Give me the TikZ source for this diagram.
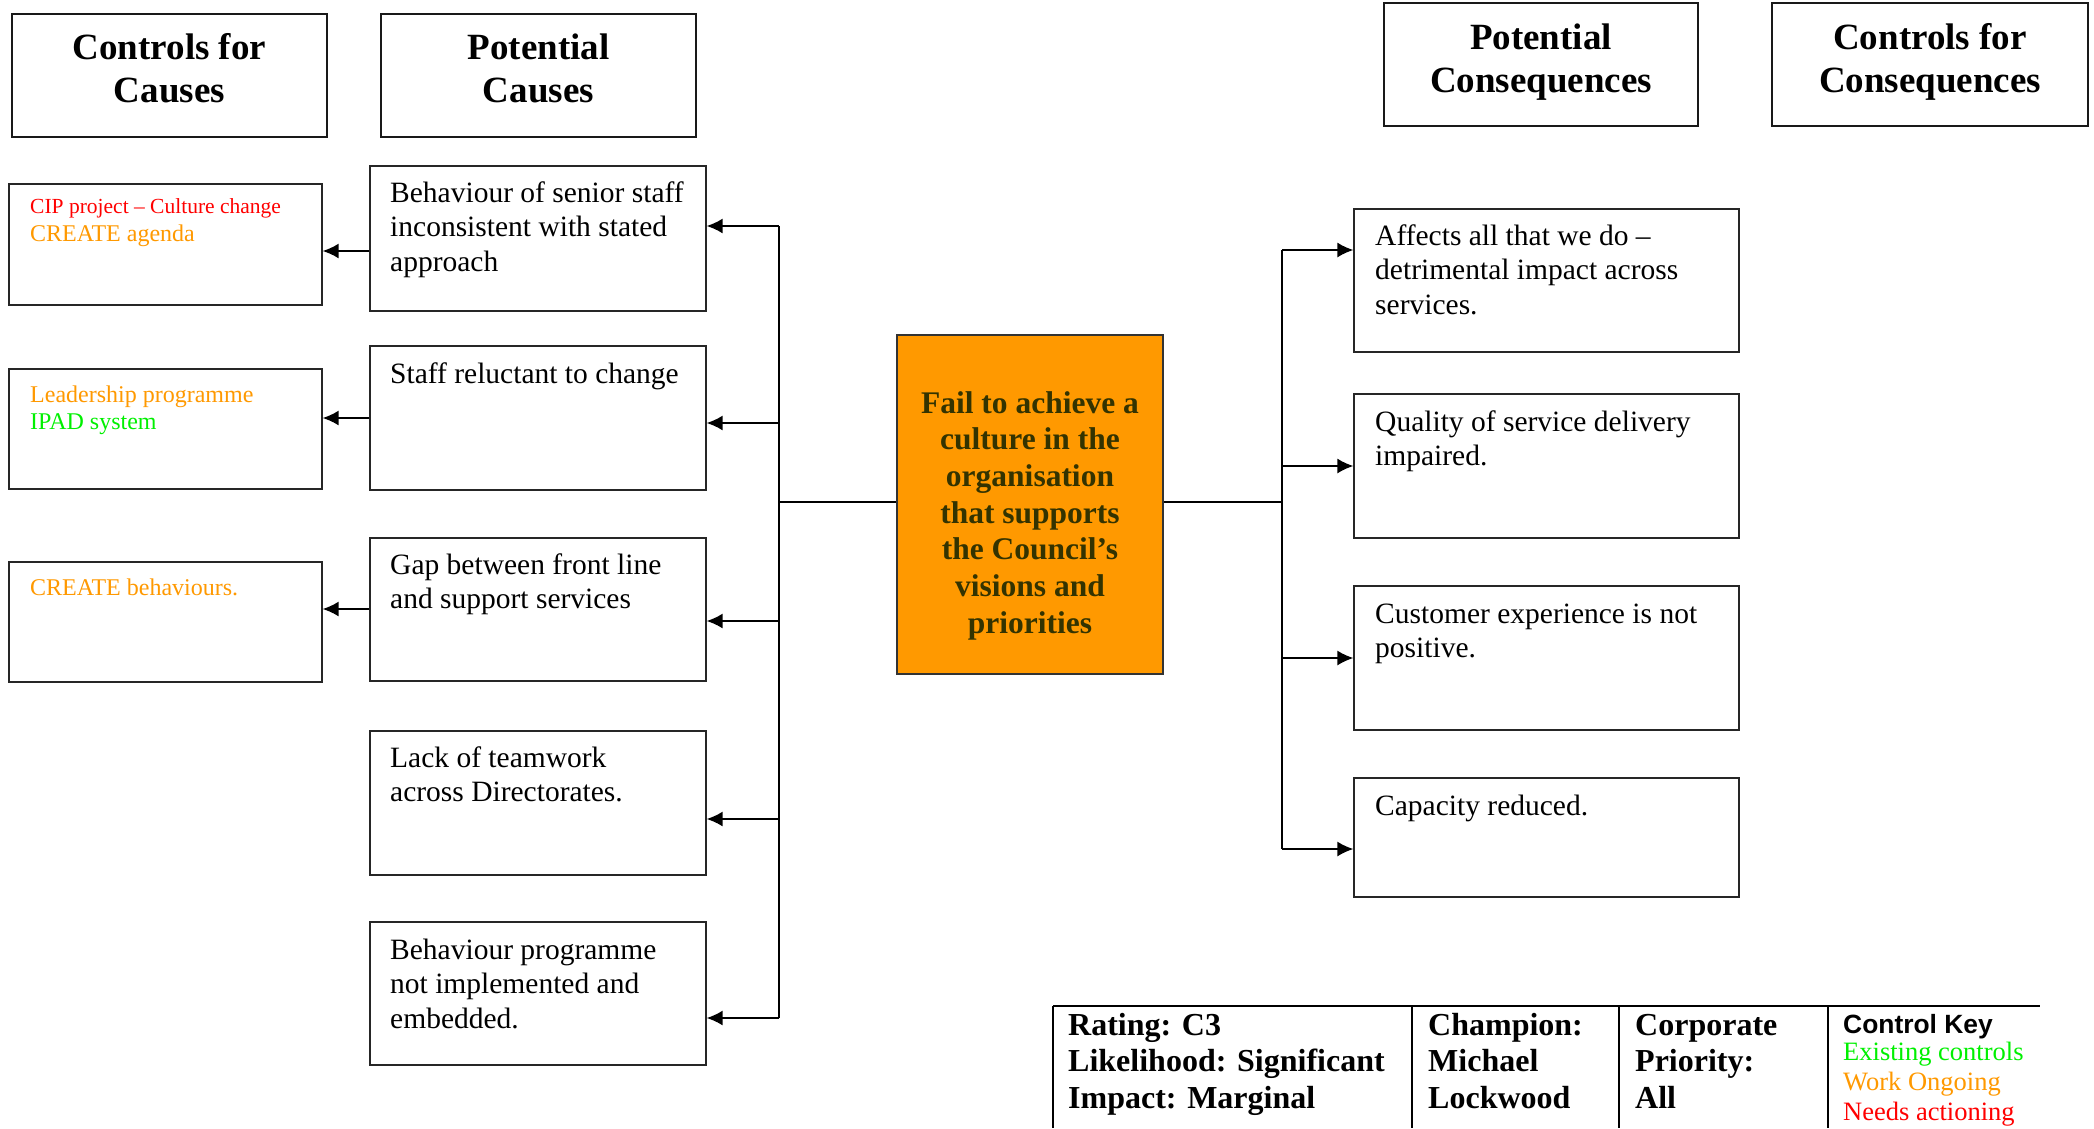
\documentclass[tikz,border=0pt]{standalone}
\usepackage{fontspec}
\setmainfont{Liberation Serif}
\newfontfamily\arialfont{Liberation Sans}
\usetikzlibrary{arrows.meta,fit}
\definecolor{ctrlred}{RGB}{255,0,0}
\definecolor{ctrlorange}{RGB}{255,153,0}
\definecolor{ctrlgreen}{RGB}{0,240,0}
\definecolor{riskfill}{RGB}{255,153,0}
\definecolor{risktext}{RGB}{51,51,0}
\newcommand\myBody{\fontsize{29.5}{34.7}\selectfont}
\newcommand\myHdr{\fontsize{37}{43.5}\selectfont\bfseries}
\newcommand\myRisk{\fontsize{31.5}{36.7}\selectfont\bfseries}
\newcommand\myTbl{\fontsize{32}{36.5}\selectfont\bfseries}
\newcommand\myKey{\fontsize{26.5}{30}\selectfont}
\begin{document}
\begin{tikzpicture}[x=1pt,y=-1pt,
  hdrbox/.style={draw=black!90, line width=2.2pt, inner sep=0pt},
  plainbox/.style={draw=black!85, line width=1.3pt, inner sep=0pt},
  riskbox/.style={draw=black!80, line width=1.3pt, fill=riskfill, inner sep=0pt},
  conn/.style={line width=1.6pt},
  arr/.style={line width=1.6pt, -{Latex[length=16pt,width=15pt]}},
  txt/.style={inner sep=0pt, anchor=base west},
  ctxt/.style={inner sep=0pt, anchor=base},
  tbl/.style={line width=2pt},
]
\useasboundingbox[fill=white] (0,0) rectangle (2094,1128);

% header boxes
\node[hdrbox, fit={(12,14)(327,137)}] (h1) {};
\node[hdrbox, fit={(381,14)(696,137)}] (h2) {};
\node[hdrbox, fit={(1384,3)(1698,126)}] (h3) {};
\node[hdrbox, fit={(1772,3)(2088,126)}] (h4) {};
\node[ctxt] (h1t) at (169.5,59) {\parbox[t]{300pt}{\centering\myHdr Controls for\\Causes}};
\node[ctxt] (h2t) at (538.5,59) {\parbox[t]{300pt}{\centering\myHdr Potential\\Causes}};
\node[ctxt] (h3t) at (1541,49) {\parbox[t]{300pt}{\centering\myHdr Potential\\Consequences}};
\node[ctxt] (h4t) at (1930,49) {\parbox[t]{300pt}{\centering\myHdr Controls for\\Consequences}};

% control boxes (causes)
\node[plainbox, fit={(9,184)(322,305)}] (k1) {};
\node[plainbox, fit={(9,369)(322,489)}] (k2) {};
\node[plainbox, fit={(9,562)(322,682)}] (k3) {};
\node[txt] (k1t) at (30,213) {\parbox[t]{290pt}{\raggedright\fontsize{24}{28}\selectfont\leavevmode
  {\fontsize{21.5}{28}\selectfont\color{ctrlred}CIP project – Culture change}\\
  {\color{ctrlorange}CREATE agenda}}};
\node[txt] (k2t) at (30,402) {\parbox[t]{290pt}{\raggedright\fontsize{24}{27}\selectfont\leavevmode
  {\color{ctrlorange}Leadership programme}\\
  {\color{ctrlgreen}IPAD system}}};
\node[txt] (k3t) at (30,595) {\parbox[t]{290pt}{\raggedright\fontsize{24}{27}\selectfont\leavevmode
  {\color{ctrlorange}CREATE behaviours.}}};

% cause boxes
\node[plainbox, fit={(370,166)(706,311)}] (c1) {};
\node[plainbox, fit={(370,346)(706,490)}] (c2) {};
\node[plainbox, fit={(370,538)(706,681)}] (c3) {};
\node[plainbox, fit={(370,731)(706,875)}] (c4) {};
\node[plainbox, fit={(370,922)(706,1065)}] (c5) {};
\node[txt] (c1t) at (390,202) {\parbox[t]{310pt}{\raggedright\myBody Behaviour of senior staff\\inconsistent with stated\\approach}};
\node[txt] (c2t) at (390,383) {\parbox[t]{310pt}{\raggedright\myBody Staff reluctant to change}};
\node[txt] (c3t) at (390,574) {\parbox[t]{310pt}{\raggedright\myBody Gap between front line\\and support services}};
\node[txt] (c4t) at (390,767) {\parbox[t]{310pt}{\raggedright\myBody Lack of teamwork\\across Directorates.}};
\node[txt] (c5t) at (390,959) {\parbox[t]{310pt}{\raggedright\myBody Behaviour programme\\not implemented and\\embedded.}};

% central risk
\node[riskbox, fit={(897,335)(1163,674)}] (risk) {};
\node[ctxt, text=risktext] (riskt) at (1030,413) {\parbox[t]{262pt}{\centering\myRisk Fail to achieve a\\culture in the\\organisation\\that supports\\the Council’s\\visions and\\priorities}};

% consequence boxes
\node[plainbox, fit={(1354,209)(1739,352)}] (q1) {};
\node[plainbox, fit={(1354,394)(1739,538)}] (q2) {};
\node[plainbox, fit={(1354,586)(1739,730)}] (q3) {};
\node[plainbox, fit={(1354,778)(1739,897)}] (q4) {};
\node[txt] (q1t) at (1375,245) {\parbox[t]{360pt}{\raggedright\myBody Affects all that we do –\\detrimental impact across\\services.}};
\node[txt] (q2t) at (1375,431) {\parbox[t]{360pt}{\raggedright\myBody Quality of service delivery\\impaired.}};
\node[txt] (q3t) at (1375,623) {\parbox[t]{360pt}{\raggedright\myBody Customer experience is not\\positive.}};
\node[txt] (q4t) at (1375,815) {\parbox[t]{360pt}{\raggedright\myBody Capacity reduced.}};

% left bus
\coordinate (bL) at (779,502);
\coordinate (bL1) at (779,226);
\coordinate (bL2) at (779,423);
\coordinate (bL3) at (779,621);
\coordinate (bL4) at (779,819);
\coordinate (bL5) at (779,1018);
\draw[conn] (risk.west |- bL) -- (bL);
\draw[conn] (bL1) -- (bL5);
\draw[arr] (bL1) -- (bL1 -| c1.east);
\draw[arr] (bL2) -- (bL2 -| c2.east);
\draw[arr] (bL3) -- (bL3 -| c3.east);
\draw[arr] (bL4) -- (bL4 -| c4.east);
\draw[arr] (bL5) -- (bL5 -| c5.east);

% causes to controls
\coordinate (a1) at (0,251);
\coordinate (a2) at (0,418);
\coordinate (a3) at (0,609);
\draw[arr] (c1.west |- a1) -- (k1.east |- a1);
\draw[arr] (c2.west |- a2) -- (k2.east |- a2);
\draw[arr] (c3.west |- a3) -- (k3.east |- a3);

% right bus
\coordinate (bR) at (1282,502);
\coordinate (bR1) at (1282,250);
\coordinate (bR2) at (1282,466);
\coordinate (bR3) at (1282,658);
\coordinate (bR4) at (1282,849);
\draw[conn] (risk.east |- bR) -- (bR);
\draw[conn] (bR1) -- (bR4);
\draw[arr] (bR1) -- (bR1 -| q1.west);
\draw[arr] (bR2) -- (bR2 -| q2.west);
\draw[arr] (bR3) -- (bR3 -| q3.west);
\draw[arr] (bR4) -- (bR4 -| q4.west);

% bottom table
\draw[tbl] (1053,1006) -- (2040,1006);
\draw[tbl] (1053,1006) -- (1053,1128);
\draw[tbl] (1412,1006) -- (1412,1128);
\draw[tbl] (1619,1006) -- (1619,1128);
\draw[tbl] (1828,1006) -- (1828,1128);
\node[txt] (t1) at (1068,1035) {\parbox[t]{340pt}{\raggedright\myTbl Rating: C3\\Likelihood: Significant\\Impact: Marginal}};
\node[txt] (t2) at (1428,1035) {\parbox[t]{190pt}{\raggedright\myTbl Champion:\\Michael\\Lockwood}};
\node[txt] (t3) at (1635,1035) {\parbox[t]{190pt}{\raggedright\myTbl Corporate\\Priority:\\All}};
\node[txt] (t4) at (1843,1033) {\arialfont\bfseries\fontsize{26.4}{30}\selectfont Control Key};
\node[txt, text=ctrlgreen] (t5) at (1843,1060) {\myKey Existing controls};
\node[txt, text=ctrlorange] (t6) at (1843,1090) {\myKey Work Ongoing};
\node[txt, text=ctrlred] (t7) at (1843,1120) {\myKey Needs actioning};
\end{tikzpicture}
\end{document}
